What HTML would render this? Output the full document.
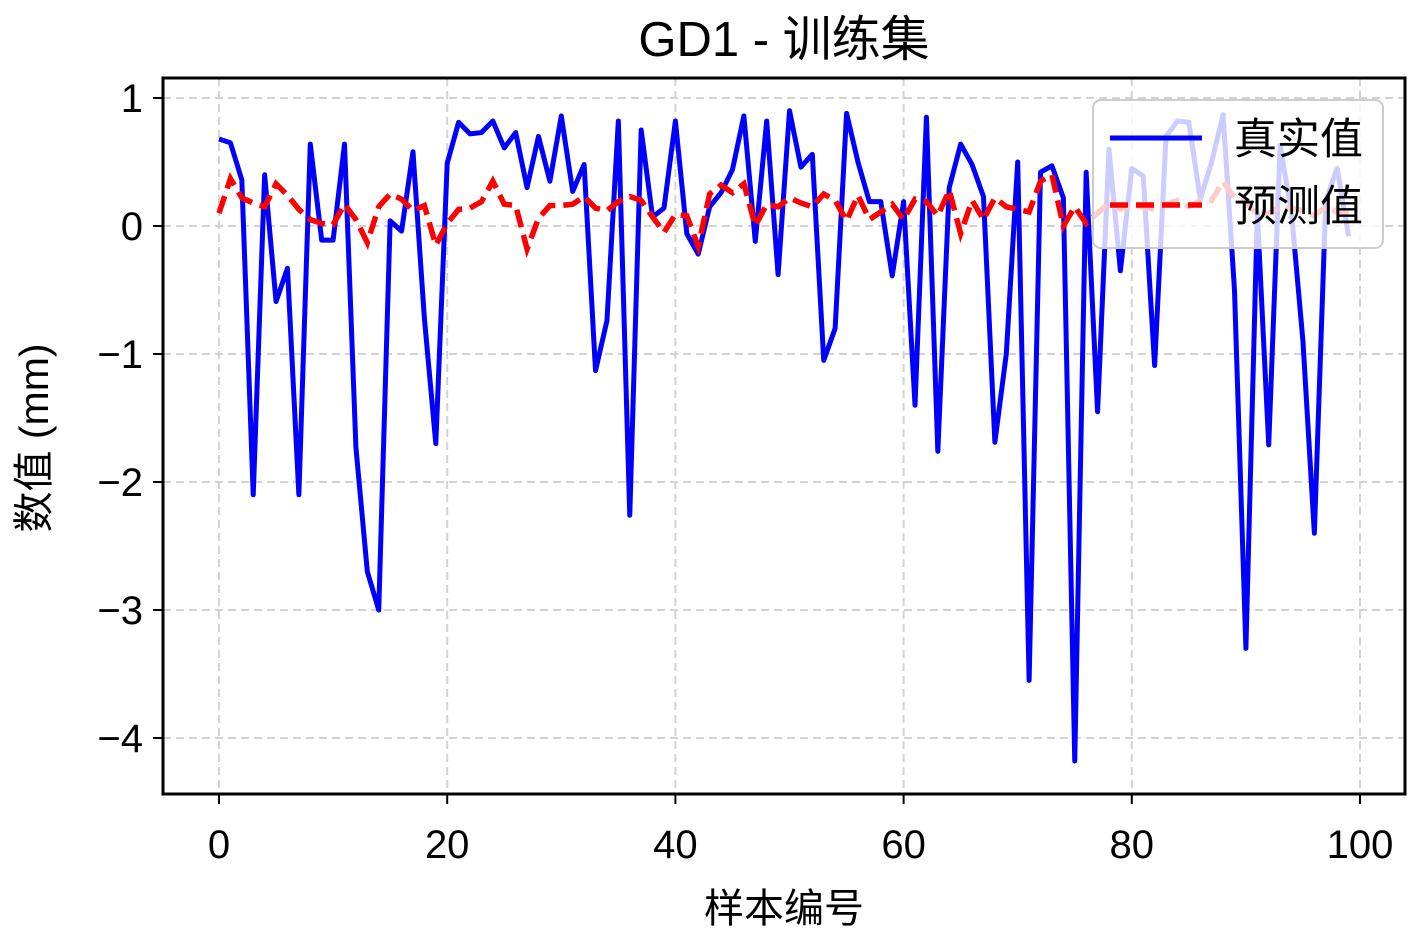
<!DOCTYPE html>
<html><head><meta charset="utf-8"><style>
body{margin:0;background:#fff;}
svg text{font-family:"Liberation Sans","Noto Sans CJK SC",sans-serif;fill:#000;}
</style></head><body>
<svg id="chart" width="1417" height="944" xmlns="http://www.w3.org/2000/svg">
<g id="grid"></g>
<g id="lines"></g>
<g id="ticks"></g>
<text x="784" y="56" font-size="49" text-anchor="middle">GD1 - 训练集</text>
<text x="784" y="922" font-size="40" text-anchor="middle">样本编号</text>
<text transform="translate(48,438) rotate(-90)" font-size="41" text-anchor="middle">数值 (mm)</text>
<rect x="163" y="78" width="1242" height="716" fill="none" stroke="#000" stroke-width="3"/>
<g>
<rect x="1093" y="100" width="290" height="148" rx="8" fill="#fff" fill-opacity="0.8" stroke="#ccc" stroke-width="2"/>
<line x1="1110" y1="138" x2="1202" y2="138" stroke="#0000ff" stroke-width="5"/>
<text x="1234" y="154" font-size="43">真实值</text>
<line x1="1110" y1="205" x2="1202" y2="205" stroke="#ff0000" stroke-width="5.5" stroke-dasharray="18,8"/>
<text x="1234" y="221" font-size="43">预测值</text>
</g>
</svg>
<script>
const trueVals=[0.68,0.65,0.36,-2.1,0.4,-0.59,-0.33,-2.1,0.64,-0.11,-0.11,0.64,-1.73,-2.7,-3.0,0.04,-0.04,0.58,-0.72,-1.7,0.49,0.81,0.72,0.73,0.82,0.61,0.73,0.3,0.7,0.35,0.86,0.27,0.48,-1.13,-0.74,0.82,-2.26,0.75,0.07,0.14,0.82,-0.06,-0.22,0.15,0.26,0.44,0.86,-0.12,0.82,-0.38,0.9,0.46,0.56,-1.05,-0.8,0.88,0.5,0.19,0.19,-0.39,0.19,-1.4,0.85,-1.76,0.3,0.64,0.48,0.23,-1.69,-1.0,0.5,-3.55,0.42,0.47,0.22,-4.18,0.42,-1.45,0.6,-0.35,0.45,0.39,-1.09,0.7,0.82,0.81,0.21,0.5,0.87,-0.5,-3.3,0.1,-1.71,0.63,0.1,-0.9,-2.4,0.2,0.45,-0.08];
const predVals=[0.1,0.37,0.22,0.18,0.15,0.33,0.24,0.13,0.05,0.02,0.01,0.17,0.05,-0.13,0.15,0.25,0.21,0.12,0.16,-0.15,0.02,0.13,0.14,0.19,0.35,0.17,0.16,-0.18,0.06,0.16,0.16,0.17,0.23,0.14,0.12,0.19,0.23,0.2,0.07,-0.05,0.09,0.08,-0.16,0.25,0.32,0.26,0.33,0.0,0.17,0.15,0.22,0.18,0.15,0.25,0.2,0.04,0.24,0.05,0.11,0.17,0.05,0.21,0.19,0.08,0.28,-0.06,0.2,0.05,0.22,0.15,0.13,0.11,0.35,0.4,0.0,0.15,0.02,0.1,0.18,0.13,0.17,0.15,0.13,0.17,0.2,0.15,0.2,0.2,0.35,0.22,0.18,0.09,0.1,0.15,0.14,0.12,0.08,0.15,0.11,0.1];
const xTicks=[0,20,40,60,80,100];
const yTicks=[1,0,-1,-2,-3,-4];
const NS='http://www.w3.org/2000/svg';
function xs(v){return 219+v*11.41;}
function ys(v){return 226-v*128;}
function mk(tag,attrs,parent){const e=document.createElementNS(NS,tag);for(const k in attrs)e.setAttribute(k,attrs[k]);parent.appendChild(e);return e;}
const grid=document.getElementById('grid'),ticks=document.getElementById('ticks'),lines=document.getElementById('lines');
xTicks.forEach(t=>{
  const g=mk('line',{x1:xs(t),x2:xs(t),y1:78,y2:794,stroke:'#d3d3d3','stroke-width':2,'stroke-dasharray':'8,5'},grid);
  
  
  const tk=mk('line',{x1:xs(t),x2:xs(t),y1:794,y2:804,stroke:'#000','stroke-width':2},ticks);
  
  
  const tl=mk('text',{x:xs(t),y:858,'font-size':40,'text-anchor':'middle'},ticks);
  tl.textContent=t;
  
  
});
yTicks.forEach(t=>{
  const g=mk('line',{x1:163,x2:1405,y1:ys(t),y2:ys(t),stroke:'#d3d3d3','stroke-width':2,'stroke-dasharray':'8,5'},grid);
  
  
  const tk=mk('line',{x1:153,x2:163,y1:ys(t),y2:ys(t),stroke:'#000','stroke-width':2},ticks);
  
  
  const tl=mk('text',{x:143,y:ys(t)+14,'font-size':40,'text-anchor':'end'},ticks);
  tl.textContent=(t<0?'\u2212'+(-t):t);
  
  
});
const tp=mk('polyline',{points:trueVals.map((v,i)=>xs(i)+','+ys(v)).join(' '),fill:'none',stroke:'#0000ff','stroke-width':5,'stroke-linejoin':'round'},lines);


const pp=mk('polyline',{points:predVals.map((v,i)=>xs(i)+','+ys(v)).join(' '),fill:'none',stroke:'#ff0000','stroke-width':5.5,'stroke-dasharray':'18,8'},lines);


</script>
</body></html>
